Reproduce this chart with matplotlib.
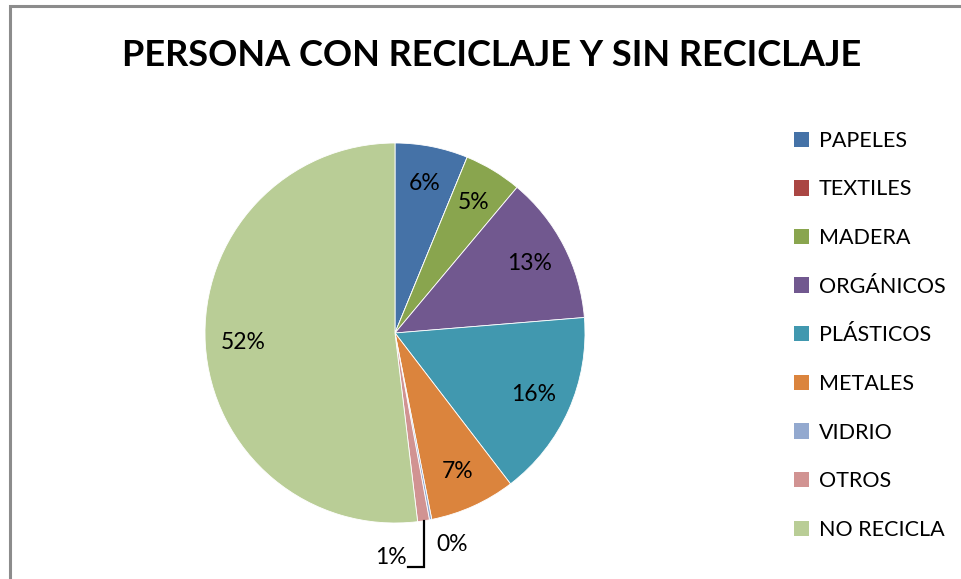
import matplotlib
matplotlib.use("Agg")
import matplotlib.pyplot as plt
import numpy as np
from matplotlib.patches import Rectangle, Patch

categories = ["PAPELES", "TEXTILES", "MADERA", "ORGÁNICOS", "PLÁSTICOS",
              "METALES", "VIDRIO", "OTROS", "NO RECICLA"]
values = [6.2, 0.0, 4.9, 12.6, 15.9, 7.3, 0.2, 1.0, 51.9]
labels = ["6%", "", "5%", "13%", "16%", "7%", "0%", "1%", "52%"]
colors = ["#4572A7", "#AA4643", "#89A54E", "#71588F", "#4198AF",
          "#DB843D", "#93A9CF", "#D19392", "#B9CD96"]

plt.rcParams["font.family"] = ["Lato", "DejaVu Sans"]

W, H = 962, 579
fig = plt.figure(figsize=(W / 100, H / 100), dpi=100)
fig.patch.set_facecolor("white")

# chart-area border (runs off the right and bottom edges)
fig.patches.append(Rectangle((10 / W, -0.05), 1.0, 1 - 6 / H + 0.05,
                             transform=fig.transFigure, fill=False,
                             edgecolor="#8C8C8C", lw=2.2))

fig.text(492 / W, 1 - 56 / H, "PERSONA CON RECICLAJE Y SIN RECICLAJE",
         ha="center", va="center", fontsize=26, fontweight="bold", color="black")

cx, cy, r = 395, 333, 190
ax = fig.add_axes([(cx - r) / W, (H - cy - r) / H, 2 * r / W, 2 * r / H])
wedges, _ = ax.pie(values, colors=colors, startangle=90, counterclock=False,
                   radius=1, wedgeprops=dict(edgecolor="white", linewidth=0.6))
ax.set_xlim(-1, 1)
ax.set_ylim(-1, 1)
ax.set_aspect("auto")
ax.axis("off")

for w, lab in zip(wedges, labels):
    if lab in ("", "0%", "1%"):
        continue
    mid = np.deg2rad((w.theta1 + w.theta2) / 2)
    ax.text(0.8 * np.cos(mid), 0.8 * np.sin(mid), lab, ha="center", va="center",
            fontsize=16.5, color="black")

# leader line for the two small slices at the bottom
w_ot = wedges[categories.index("OTROS")]
mid = np.deg2rad((w_ot.theta1 + w_ot.theta2) / 2)
x0, y0 = np.cos(mid), np.sin(mid)
ax.plot([x0, x0, x0 - 0.08], [y0, -1.23, -1.23], color="black", lw=1.6,
        clip_on=False, solid_joinstyle="miter")
ax.text(x0 + 0.07, -1.115, labels[categories.index("VIDRIO")], ha="left",
        va="center", fontsize=16.5, clip_on=False)
ax.text(x0 - 0.09, -1.18, labels[categories.index("OTROS")], ha="right",
        va="center", fontsize=16.5, clip_on=False)

handles = [Patch(facecolor=c, edgecolor="none") for c in colors]
fig.legend(handles, categories, loc="upper left",
           bbox_to_anchor=(783 / W, 1 - 120 / H), frameon=False,
           fontsize=15.5, labelspacing=1.33, handlelength=0.72, handleheight=0.72,
           handletextpad=0.45, borderpad=0)

fig.savefig("out.png", dpi=100, facecolor="white")
